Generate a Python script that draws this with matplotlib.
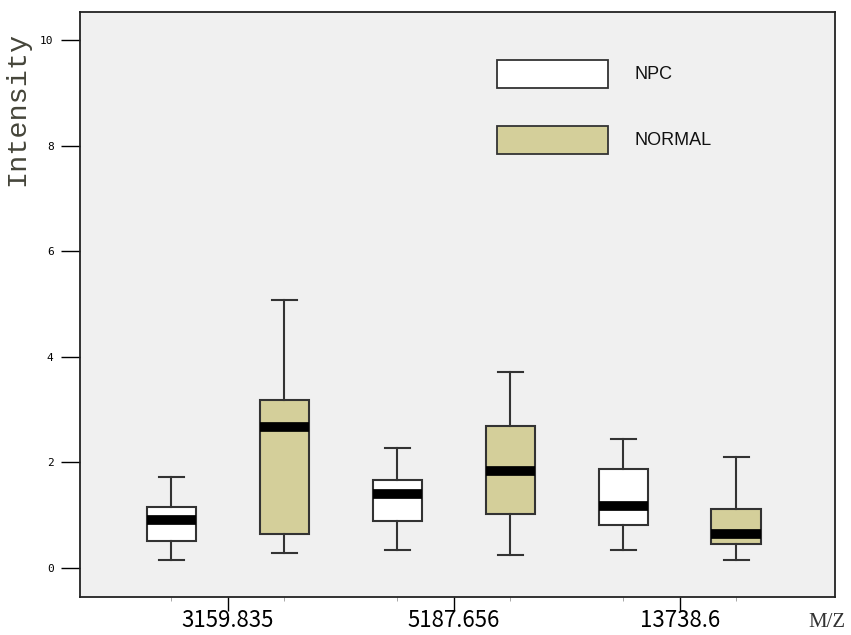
import matplotlib.pyplot as plt
from matplotlib.patches import Rectangle

# M/Z peaks and box statistics
peaks = ['3159.835', '5187.656', '13738.6']
groups = ['NPC', 'NORMAL']
group_colors = ['#ffffff', '#d4cf9a']

# per peak: [whislo, q1, med, q3, whishi]
npc_stats = [
    [0.15, 0.51, 0.91, 1.16, 1.73],
    [0.34, 0.89, 1.40, 1.67, 2.27],
    [0.34, 0.81, 1.17, 1.88, 2.44],
]
normal_stats = [
    [0.28, 0.64, 2.67, 3.18, 5.08],
    [0.25, 1.02, 1.84, 2.69, 3.71],
    [0.15, 0.45, 0.64, 1.12, 2.10],
]

yticks = [0, 2, 4, 6, 8, 10]


def to_bxp(s, label):
    return dict(whislo=s[0], q1=s[1], med=s[2], q3=s[3], whishi=s[4],
                fliers=[], label=label)


fig = plt.figure(figsize=(8.51, 6.35), dpi=100)
ax = fig.add_axes([0.094, 0.06, 0.887, 0.921])
ax.set_facecolor('#f0f0f0')

offset = 0.25
edge = '#333333'
for gi, (stats, col) in enumerate(zip([npc_stats, normal_stats], group_colors)):
    sign = -1 if gi == 0 else 1
    pos = [i + sign * offset for i in range(len(peaks))]
    ax.bxp([to_bxp(s, p) for s, p in zip(stats, peaks)], positions=pos,
           widths=0.22, patch_artist=True, showfliers=False,
           manage_ticks=False,
           boxprops=dict(facecolor=col, edgecolor=edge, linewidth=1.5),
           whiskerprops=dict(color=edge, linewidth=1.5),
           capprops=dict(color=edge, linewidth=1.5),
           capwidths=0.11,
           medianprops=dict(color='black', linewidth=7, solid_capstyle='butt'))

ax.set_xlim(-0.655, 2.686)
ax.set_ylim(-0.55, 10.53)

ax.set_yticks(yticks)
ax.set_yticklabels([str(v) for v in yticks], fontsize=8, family='DejaVu Sans Mono')
ax.tick_params(axis='y', length=14, width=1, pad=5)

ax.set_xticks(range(len(peaks)))
ax.set_xticklabels(peaks, fontsize=16,
                   family=['Liberation Sans Narrow', 'Noto Sans CJK JP'])
ax.tick_params(axis='x', length=10, width=1, pad=-1)
ax.set_xticks([i + d for i in range(len(peaks)) for d in (-offset, offset)], minor=True)
ax.tick_params(axis='x', which='minor', length=3, color='#999999')

for sp in ax.spines.values():
    sp.set_linewidth(1.3)
    sp.set_color('#222222')

ax.set_ylabel('Intensity', fontsize=20.5, family='Liberation Mono', color='#45453a',
              labelpad=2)
ax.yaxis.set_label_coords(-0.066, 0.835)

fig.text(0.972, 0.02, 'M/Z', fontsize=15, family='Liberation Serif', ha='center',
         va='center', color='#333333')

# legend drawn as boxes inside the plot
leg_y = [0.870, 0.757]
for lab, col, y0 in zip(groups, group_colors, leg_y):
    ax.add_patch(Rectangle((0.552, y0), 0.147, 0.048, transform=ax.transAxes,
                           facecolor=col, edgecolor=edge, linewidth=1.3))
    ax.text(0.735, y0 + 0.024, lab, transform=ax.transAxes, fontsize=13,
            va='center', ha='left', family='Liberation Sans', color='#111111')

fig.savefig('out.png', dpi=100)
